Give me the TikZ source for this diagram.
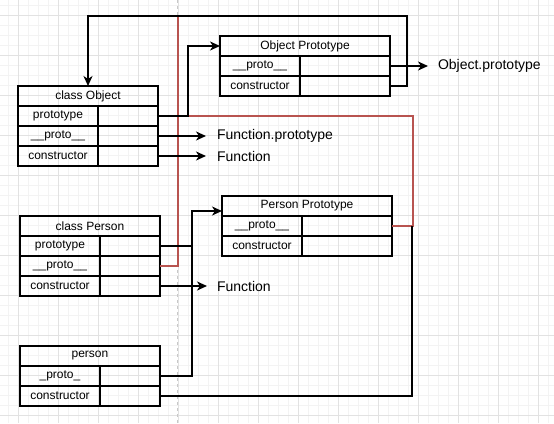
\documentclass[tikz,border=0pt]{standalone}
\usepackage{fontspec}
\setmainfont{Liberation Sans}
\usetikzlibrary{arrows.meta,calc}
\definecolor{redline}{HTML}{B85450}
\definecolor{gmaj}{HTML}{E2E2E2}
\definecolor{gmin}{HTML}{F3F3F3}
\definecolor{pagebrk}{HTML}{C8C8C8}
\tikzset{
  cell/.style={draw, line width=2pt, inner sep=0pt, outer sep=0pt, minimum height=20pt,
    font=\fontsize{12pt}{14pt}\selectfont, anchor=north west},
  conn/.style={line width=2pt},
  arr/.style={conn, -{Stealth[length=10pt,width=9pt,inset=3pt]}},
  redconn/.style={line width=2pt, draw=redline},
  lbl/.style={inner sep=0pt, outer sep=0pt, anchor=west, font=\fontsize{14pt}{16pt}\selectfont},
}
% header: name, x, y, width, text
\newcommand{\tblhead}[5]{\node[cell, minimum width=#4pt] (#1) at (#2,#3) {#5};}
% row: name, x, y, left width, right width, text
\newcommand{\tblrow}[6]{%
  \node[cell, minimum width=#4pt] (#1l) at (#2,#3) {#6};
  \node[cell, minimum width=#5pt] (#1r) at (#2+#4,#3) {};}
\begin{document}
\begin{tikzpicture}[x=1pt, y=-1pt]
\useasboundingbox (0,0) rectangle (554,423);
\fill[white] (0,0) rectangle (554,423);
% grid
\foreach \x in {8,18,...,548} \draw[gmin, line width=0.8pt] (\x,0) -- (\x,423);
\foreach \y in {5,15,...,420} \draw[gmin, line width=0.8pt] (0,\y) -- (554,\y);
\foreach \x in {18,58,...,538} \draw[gmaj, line width=0.8pt] (\x,0) -- (\x,423);
\foreach \y in {15,55,...,415} \draw[gmaj, line width=0.8pt] (0,\y) -- (554,\y);
\draw[pagebrk, line width=0.8pt, dash pattern=on 3pt off 3pt] (177,0) -- (177,423);

% class Object
\tblhead{coh}{18}{86}{140}{class Object}
\tblrow{coa}{18}{106}{80}{60}{prototype}
\tblrow{cob}{18}{126}{80}{60}{\_\_proto\_\_}
\tblrow{coc}{18}{146}{80}{60}{constructor}
% Object Prototype
\tblhead{oph}{220}{36}{170}{Object Prototype}
\tblrow{opa}{220}{56}{80}{90}{\_\_proto\_\_}
\tblrow{opb}{220}{76}{80}{90}{constructor}
% class Person
\tblhead{cph}{20}{216}{140}{class Person}
\tblrow{cpa}{20}{236}{80}{60}{prototype}
\tblrow{cpb}{20}{256}{80}{60}{\_\_proto\_\_}
\tblrow{cpc}{20}{276}{80}{60}{constructor}
% Person Prototype
\tblhead{pph}{222}{196}{170}{Person Prototype}
\tblrow{ppa}{222}{216}{80}{90}{\_\_proto\_\_}
\tblrow{ppb}{222}{236}{80}{90}{constructor}
% person
\tblhead{peh}{20}{346}{140}{person}
\tblrow{pea}{20}{366}{80}{60}{\_proto\_}
\tblrow{peb}{20}{386}{80}{60}{constructor}

% free labels
\node[lbl] (fp) at (217,136) {Function.prototype};
\node[lbl] (fn1) at (217,156) {Function};
\node[lbl] (fn2) at (217,286) {Function};
\node[lbl] (objp) at (438,66) {Object.prototype};

% red connectors (below black ones)
\coordinate (rtop) at (178,16);
\draw[redconn] (ppar.east) -| ($(coar.east)+(255,0)$) -- ($(coar.east)+(30,0)$);
\draw[redconn] (cpbr.east) -| (rtop);

% black connectors
\coordinate (tr) at (407,16);
\draw[arr] (coar.east) -- ++(30,0) |- (oph.west);
\draw[arr] (cobr.east) -- ([xshift=-11pt]cobr.east -| fp.west);
\draw[arr] (cocr.east) -- ([xshift=-11pt]cocr.east -| fn1.west);
\draw[arr] (opar.east) -- ([xshift=-10pt]opar.east -| objp.west);
\draw[arr] (opbr.east) -| (tr) -| (coh.north);
\draw[arr] (cpar.east) -| ($(pph.west)+(-30,5)$) -- ($(pph.west)+(0,5)$);
\draw[conn] (pear.east) -| ($(pph.west)+(-30,40)$);
\draw[conn] (pebr.east) -| ($(ppar.east)+(20,0)$);
\draw[arr] (cpcr.east) -- ([xshift=-10pt]cpcr.east -| fn2.west);
\end{tikzpicture}
\end{document}
